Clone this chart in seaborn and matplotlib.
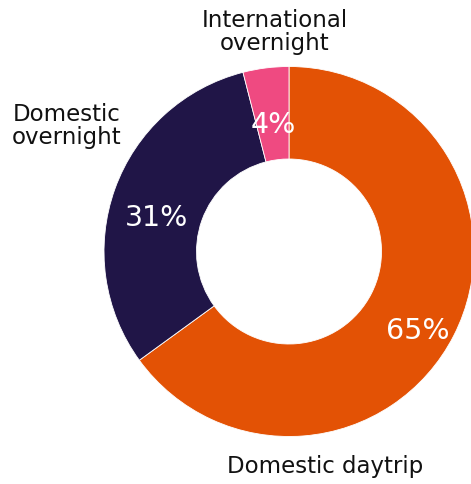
import matplotlib
matplotlib.use("Agg")
import matplotlib.pyplot as plt
import seaborn as sns
import numpy as np

categories = ["Domestic daytrip", "Domestic overnight", "International overnight"]
values = [65, 31, 4]
pct_labels = ["65%", "31%", "4%"]
colors = ["#E35205", "#201547", "#EF4A81"]

sns.set_theme(style="white")
plt.rcParams['font.family'] = ['DejaVu Sans']

fig = plt.figure(figsize=(4.71, 4.85), dpi=100)
ax = fig.add_axes([104/471, (485-437.5)/485, 370/471, 370/485])
wedges, _ = ax.pie(values, colors=colors, startangle=90, counterclock=False,
                   radius=1.0, wedgeprops=dict(width=0.5, linewidth=0.6, edgecolor="white"))
for w in wedges:
    w.set_clip_on(False)
for w, lab in zip(wedges, pct_labels):
    ang = np.deg2rad((w.theta1 + w.theta2) / 2)
    r = 0.77
    ax.text(r*np.cos(ang) + 0.01, r*np.sin(ang), lab, color="white", fontsize=20.5,
            ha="center", va="top")
ax.set_xlim(-1, 1)
ax.set_ylim(-1, 1)
ax.set_aspect("equal")
ax.axis("off")

fig.text(275/471, 1-32/485, "International\novernight", ha="center", va="center",
         fontsize=16.5, color="#111111", linespacing=1.05)
fig.text(67/471, 1-126/485, "Domestic\novernight", ha="center", va="center",
         fontsize=16.5, color="#111111", linespacing=1.05)
fig.text(325/471, 1-467/485, "Domestic daytrip", ha="center", va="center",
         fontsize=16.5, color="#111111")

fig.savefig("out.png", dpi=100)
